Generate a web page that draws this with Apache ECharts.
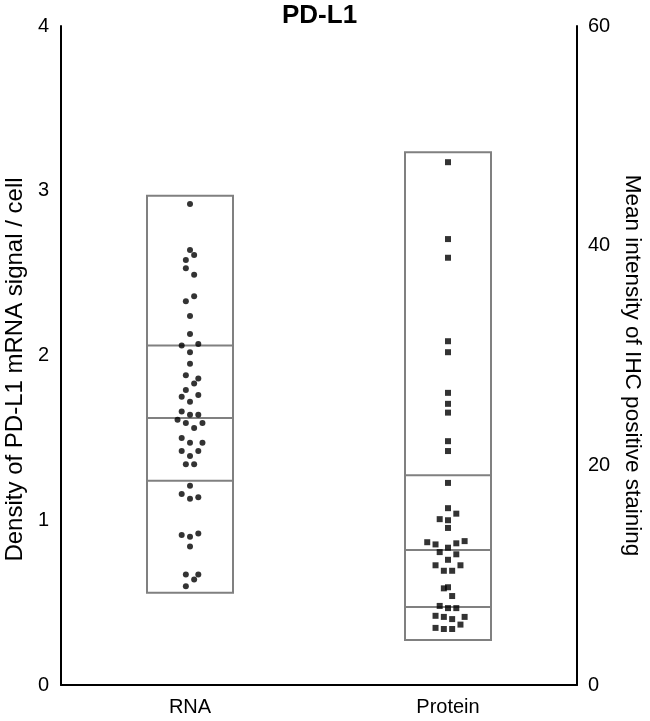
<!DOCTYPE html>
<html>
<head>
<meta charset="utf-8">
<script src="https://cdn.jsdelivr.net/npm/echarts@6/dist/echarts.min.js"></script>
<style>
  html, body { margin: 0; padding: 0; background: #fff; }
  #main { width: 650px; height: 721px; }
</style>
</head>
<body>
<div id="main"></div>
<script>
// ---- data ----
var categories = ['RNA', 'Protein'];

// RNA density per cell (left axis), with jitter slot of each dot
var rnaValues = [2.92, 2.64, 2.61, 2.58, 2.53, 2.49, 2.36, 2.33, 2.24, 2.13,
    2.06, 2.07, 2.02, 1.95, 1.88, 1.86, 1.83, 1.79, 1.76, 1.75,
    1.72, 1.66, 1.64, 1.64, 1.61, 1.59, 1.59, 1.56, 1.50, 1.47,
    1.47, 1.42, 1.42, 1.39, 1.34, 1.34, 1.21, 1.16, 1.13, 1.14,
    0.91, 0.90, 0.92, 0.84, 0.67, 0.67, 0.64, 0.60];
var rnaSlots = [0, 0, 1, -1, -1, 1, 1, -1, 0, 0,
    -2, 2, 0, 0, -1, 2, 1, -1, 2, -2,
    0, -2, 0, 2, -3, -1, 3, 1, -2, 0,
    3, -2, 2, 0, -1, 1, 0, -2, 0, 2,
    -2, 0, 2, 0, -1, 2, 1, -1];

// IHC mean intensity (right axis), with jitter slot of each square
var proteinValues = [47.6, 40.6, 38.9, 31.3, 30.3, 26.6, 25.6, 24.8, 22.2, 21.3,
    18.4, 16.1, 15.6, 15.1, 15.0, 14.3,
    13.0, 12.8, 12.5, 12.9, 13.1,
    12.1, 11.9, 11.4,
    10.9, 10.4, 10.4, 10.9,
    8.8, 8.9, 8.1,
    7.2, 7.0, 7.0,
    6.3, 6.2, 6.0, 6.2,
    5.2, 5.1, 5.1, 5.5];
var proteinSlots = [0, 0, 0, 0, 0, 0, 0, 0, 0, 0,
    0, 0, 2, -2, 0, 0,
    -5, -3, 0, 2, 4,
    -2, 2, 0,
    -3, -1, 1, 3,
    -1, 0, 1,
    -2, 0, 2,
    -3, -1, 1, 4,
    -3, -1, 1, 3];

// box edges: min, Q1, median, Q3, max
var rnaBox = [0.56, 1.24, 1.62, 2.06, 2.97];
var proteinBox = [4.1, 7.1, 12.3, 19.1, 48.5];

var leftTicks = { min: 0, max: 4, interval: 1 };
var rightTicks = { min: 0, max: 60, interval: 20 };

var FONT = "'Liberation Sans', Arial, Helvetica, sans-serif";
var SLOT = 0.0161; // one jitter step in x-axis units

function jitter(catIndex, values, slots) {
    return values.map(function (v, i) {
        return [catIndex + 0.5 + slots[i] * SLOT, v];
    });
}

function renderBox(params, api) {
    var cat = api.value(0);
    var bw = api.size([1, 0])[0] / 3;
    var pts = [1, 2, 3, 4, 5].map(function (k) {
        return api.coord([cat, api.value(k)]);
    });
    var cx = pts[0][0];
    var x0 = cx - bw / 2, x1 = cx + bw / 2;
    var style = { stroke: '#808080', fill: null, lineWidth: 2 };
    var children = [{
        type: 'rect',
        shape: { x: x0, y: pts[4][1], width: bw, height: pts[0][1] - pts[4][1] },
        style: style
    }];
    [1, 2, 3].forEach(function (k) {
        children.push({
            type: 'line',
            shape: { x1: x0, y1: pts[k][1], x2: x1, y2: pts[k][1] },
            style: style
        });
    });
    return { type: 'group', children: children };
}

var dom = document.getElementById('main');
var myChart = echarts.init(dom, null, { renderer: 'canvas' });

var option = {
    animation: false,
    backgroundColor: '#fff',
    textStyle: { fontFamily: FONT, color: '#000' },
    title: {
        text: 'PD-L1',
        left: 282,
        top: 3,
        padding: 0,
        textStyle: { fontFamily: FONT, fontSize: 26, fontWeight: 'bold', color: '#000' }
    },
    grid: { left: 61, right: 73, top: 26, bottom: 36, outerBoundsMode: 'none', containLabel: false },
    xAxis: [{
        type: 'category',
        data: categories,
        axisLine: { lineStyle: { color: '#000', width: 2 } },
        axisTick: { show: false },
        axisLabel: { color: '#000', fontSize: 20, margin: 12, fontFamily: FONT },
        splitLine: { show: false }
    }, {
        type: 'value',
        min: 0,
        max: 2,
        show: false
    }],
    yAxis: [{
        type: 'value',
        min: leftTicks.min,
        max: leftTicks.max,
        interval: leftTicks.interval,
        position: 'left',
        name: 'Density of PD-L1 mRNA signal / cell',
        nameLocation: 'middle',
        nameRotate: 90,
        nameGap: 28,
        nameTextStyle: { color: '#000', fontSize: 24, fontFamily: FONT, padding: [0, 28, 0, 0] },
        axisLine: { show: true, lineStyle: { color: '#000', width: 2 } },
        axisTick: { show: false },
        axisLabel: { color: '#000', fontSize: 20, margin: 12, fontFamily: FONT },
        splitLine: { show: false }
    }, {
        type: 'value',
        min: rightTicks.min,
        max: rightTicks.max,
        interval: rightTicks.interval,
        position: 'right',
        name: 'Mean intensity of IHC positive staining',
        nameLocation: 'middle',
        nameRotate: -90,
        nameGap: 28,
        nameTextStyle: { color: '#000', fontSize: 22.5, fontFamily: FONT, padding: [0, 0, 0, 20] },
        axisLine: { show: true, lineStyle: { color: '#000', width: 2 } },
        axisTick: { show: false },
        axisLabel: { color: '#000', fontSize: 20, margin: 11, fontFamily: FONT },
        splitLine: { show: false }
    }],
    series: [{
        name: 'RNA box',
        type: 'custom',
        xAxisIndex: 0,
        yAxisIndex: 0,
        renderItem: renderBox,
        data: [[0].concat(rnaBox)],
        z: 1
    }, {
        name: 'Protein box',
        type: 'custom',
        xAxisIndex: 0,
        yAxisIndex: 1,
        renderItem: renderBox,
        data: [[1].concat(proteinBox)],
        z: 1
    }, {
        name: 'RNA',
        type: 'scatter',
        xAxisIndex: 1,
        yAxisIndex: 0,
        symbol: 'circle',
        symbolSize: 6,
        itemStyle: { color: '#000' },
        data: jitter(0, rnaValues, rnaSlots),
        z: 3
    }, {
        name: 'Protein',
        type: 'scatter',
        xAxisIndex: 1,
        yAxisIndex: 1,
        symbol: 'rect',
        symbolSize: 6,
        itemStyle: { color: '#000' },
        data: jitter(1, proteinValues, proteinSlots),
        z: 3
    }]
};

if (option && typeof option === 'object') {
    myChart.setOption(option);
}
</script>
</body>
</html>
